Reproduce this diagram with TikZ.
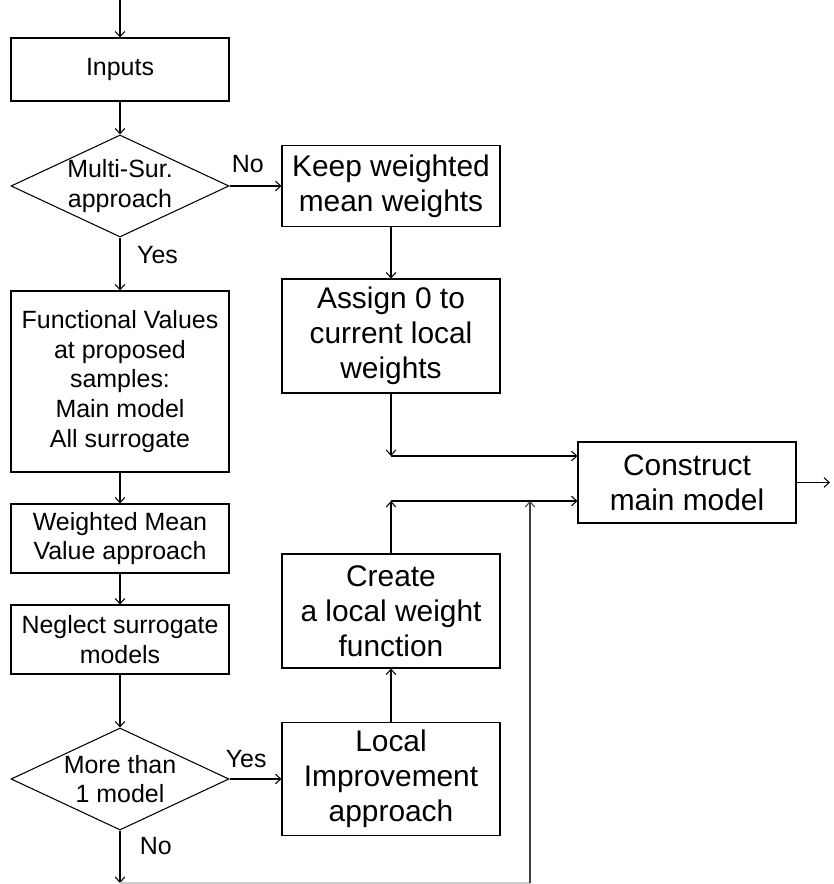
\documentclass[tikz,border=0pt]{standalone}
\usepackage{fontspec}
\setmainfont{Liberation Sans}
\usetikzlibrary{shapes.geometric,arrows.meta}

\begin{document}
\begin{tikzpicture}[line width=0.6pt,>={Straight Barb[length=3pt,width=5.5pt]},
        smallbox/.style={draw,rectangle,minimum width=4.36cm,inner sep=1pt,align=center,font=\fontsize{14.2}{17}\selectfont},
        bigbox/.style={draw,rectangle,minimum width=4.36cm,inner sep=1pt,align=center,font=\fontsize{17}{20}\selectfont},
        decision/.style={draw,diamond,aspect=2.14,minimum width=4.36cm,minimum height=2.04cm,inner sep=-1pt,align=center,font=\fontsize{14.2}{16.8}\selectfont},
        lbl/.style={inner sep=0pt,font=\fontsize{14.2}{16.5}\selectfont}]

    \useasboundingbox (0,0) rectangle (16.66,-17.68);

                % left column
                \coordinate (top) at (2.4,0);
                \node[smallbox,minimum height=1.26cm] (inp) at (2.4,-1.39) {Inputs};
                \node[decision] (ms) at (2.4,-3.72) {Multi-Sur.\\approach};
                \node[smallbox,minimum height=3.62cm] (fv) at (2.4,-7.63) {Functional Values\\at proposed\\samples:\\Main model\\All surrogate};
                \node[smallbox,minimum height=1.38cm] (wm) at (2.4,-10.77) {Weighted Mean\\Value approach};
                \node[smallbox,minimum height=1.38cm] (ns) at (2.4,-12.79) {Neglect surrogate\\models};
                \node[decision] (mt) at (2.4,-15.58) {More than\\1 model};

                % middle column
                \node[bigbox,minimum height=1.62cm] (keep) at (7.82,-3.72) {Keep weighted\\mean weights};
                \node[bigbox,minimum height=2.28cm] (asg) at (7.82,-6.72) {Assign 0 to\\current local\\weights};
                \node[bigbox,minimum height=2.28cm] (cr) at (7.82,-12.22) {Create\\a local weight\\function};
                \node[bigbox,minimum height=2.26cm] (li) at (7.82,-15.58) {Local\\Improvement\\approach};

                % right column
                \node[bigbox,minimum height=1.62cm] (con) at (13.74,-9.65) {Construct\\main model};
                \coordinate (out) at (16.6,-9.65);

                % corner points
                \coordinate (c1) at (7.82,-9.12);
                \coordinate (c2) at (7.82,-10.02);
                \coordinate (c3) at (2.4,-17.66);
                \coordinate (c4) at (10.6,-17.66);
                \coordinate (c5) at (10.6,-10.02);

                % flow
                \draw[->] (top) -- (inp);
                \draw[->] (inp) -- (ms);
                \draw[->] (ms) -- node[lbl,pos=0.35,above=7pt]{No} (keep);
                \draw[->] (ms) -- node[lbl,pos=0.34,right=9.5pt]{Yes} (fv);
                \draw[->] (keep) -- (asg);
                \draw[->] (fv) -- (wm);
                \draw[->] (wm) -- (ns);
                \draw[->] (ns) -- (mt);
                \draw[->] (mt) -- node[lbl,pos=0.32,above=6pt]{Yes} (li);
                \draw[->] (mt) -- node[lbl,pos=0.3,right=11pt]{No} (c3);
                \draw[->] (li) -- (cr);

                % into the main model
                \draw[->] (asg) -- (c1);
                \draw[->] (c1) -- (c1 -| con.west);
                \draw[->] (cr) -- (c2);
                \draw[->] (c2) -- (c2 -| con.west);
                \draw[gray!40] (c3) -- (c4);
                \draw[->,black!75] (c4) -- (c5);
                \draw[->] (con) -- (out);

\end{tikzpicture}
\end{document}
